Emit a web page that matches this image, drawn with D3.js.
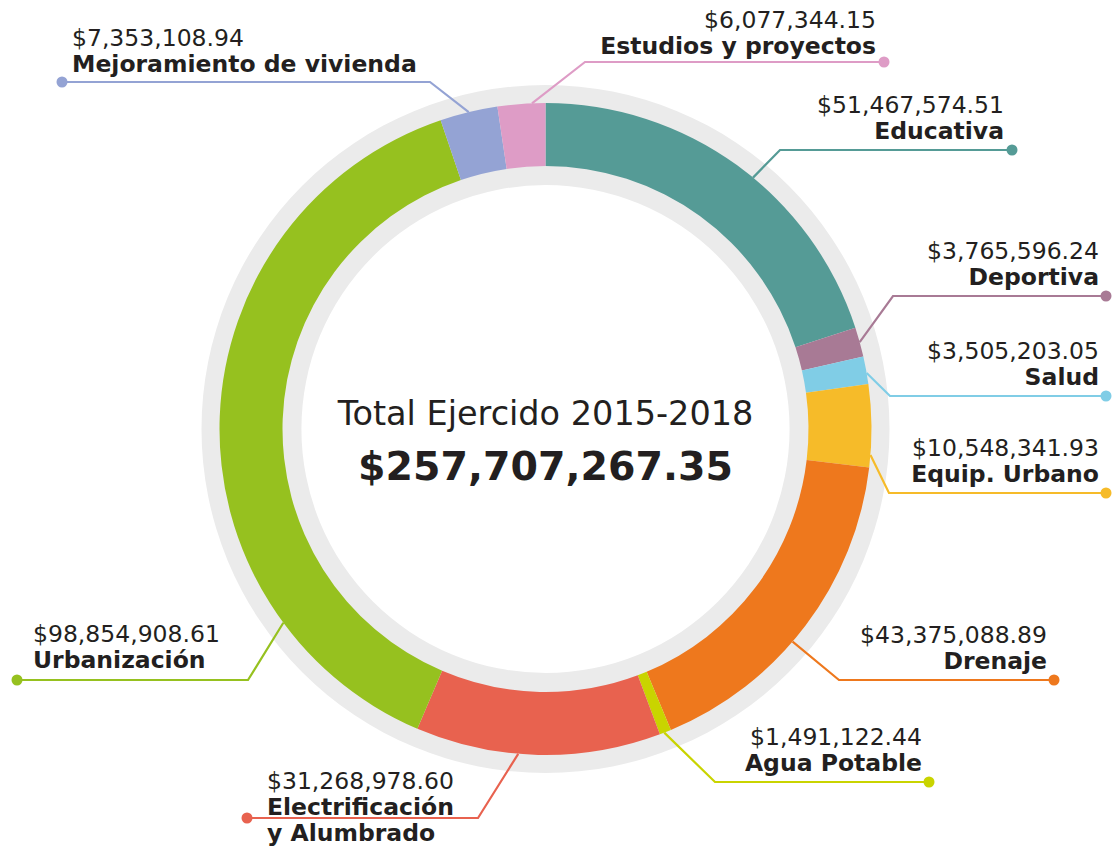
<!DOCTYPE html>
<html>
<head>
<meta charset="utf-8">
<script src="https://cdn.jsdelivr.net/npm/d3@7"></script>
<style>
  body { margin: 0; background: #fff; }
  text { font-family: "DejaVu Sans", sans-serif; fill: #231f20; }
  .value { font-size: 23.5px; }
  .name { font-size: 23.5px; font-weight: bold; }
</style>
</head>
<body>
<div id="chart"></div>
<script>
(function () {

  // data, clockwise from 12 o'clock
  var categories = [
    'Educativa', 'Deportiva', 'Salud', 'Equip. Urbano', 'Drenaje',
    'Agua Potable', 'Electrificación y Alumbrado', 'Urbanización',
    'Mejoramiento de vivienda', 'Estudios y proyectos'
  ]
  var values = [
    51467574.51, 3765596.24, 3505203.05, 10548341.93, 43375088.89,
    1491122.44, 31268978.60, 98854908.61, 7353108.94, 6077344.15
  ]
  // how each name is broken into lines
  var nameLines = [
    ['Educativa'], ['Deportiva'], ['Salud'], ['Equip. Urbano'], ['Drenaje'],
    ['Agua Potable'], ['Electrificación', 'y Alumbrado'], ['Urbanización'],
    ['Mejoramiento de vivienda'], ['Estudios y proyectos']
  ]
  var totalTitle = 'Total Ejercido 2015-2018'
  var totalValue = 257707267.35

  var colors = ['#559b96', '#a87a95', '#80cde6', '#f6bb29', '#ee781d',
                '#c9d400', '#e8624f', '#96c11f', '#94a3d4', '#de9cc6']

  // label placement: f = where on the segment the leader starts
  var labelLayout = [
    { f: 0.55, dot: [1012, 150], elbow: 780, text: [1004, 113], anchor: 'end' },
    { f: 0.5,  dot: [1106, 296], elbow: 893, text: [1099, 259], anchor: 'end' },
    { f: 0.6,  dot: [1106, 396], elbow: 890, text: [1099, 359], anchor: 'end' },
    { f: 0.85, dot: [1106, 493], elbow: 889, text: [1099, 456], anchor: 'end' },
    { f: 0.56, dot: [1054, 680], elbow: 839, text: [1047, 643], anchor: 'end' },
    { f: 0.6,  dot: [929, 782],  elbow: 715, text: [922, 745],  anchor: 'end' },
    { f: 0.58, dot: [247, 818],  elbow: 478, text: [267, 789],  anchor: 'start' },
    { f: 0.22, dot: [17, 680],   elbow: 248, text: [33, 642],   anchor: 'start' },
    { f: 0.5,  dot: [62, 82],    elbow: 430, text: [72, 46],    anchor: 'start' },
    { f: 0.72, dot: [884, 62],   elbow: 585, text: [876, 28],   anchor: 'end' }
  ]

  var width = 1116, height = 846
  var cx = 545.5, cy = 429
  var innerR = 263, outerR = 326

  var svg = d3.select('#chart')
    .append('svg')
    .attr('width', width)
    .attr('height', height)

  var g = svg.append('g')
    .attr('transform', 'translate(' + cx + ',' + cy + ')')

  var data = categories.map(function (c, i) {
    return { name: c, value: values[i], color: colors[i], lines: nameLines[i], layout: labelLayout[i] }
  })

  // grey backing ring
  g.append('path')
    .attr('d', d3.arc().innerRadius(244).outerRadius(344).startAngle(0).endAngle(2 * Math.PI)())
    .attr('fill', '#ebebeb')

  var pie = d3.pie()
    .sort(null)
    .value(function (d) { return d.value })

  var arc = d3.arc()
    .innerRadius(innerR)
    .outerRadius(outerR)

  var arcs = pie(data)

  g.selectAll('.slice')
    .data(arcs)
    .enter().append('path')
    .attr('class', 'slice')
    .attr('d', arc)
    .attr('fill', function (d) { return d.data.color })

  var fmt = d3.format('$,.2f')

  // leader lines
  arcs.forEach(function (d) {
    var L = d.data.layout
    var a = d.startAngle + L.f * (d.endAngle - d.startAngle)
    var ax = cx + outerR * Math.sin(a)
    var ay = cy - outerR * Math.cos(a)

    svg.append('polyline')
      .attr('points', [[ax, ay], [L.elbow, L.dot[1]], L.dot].map(function (p) { return p.join(',') }).join(' '))
      .attr('fill', 'none')
      .attr('stroke', d.data.color)
      .attr('stroke-width', 2.2)

    svg.append('circle')
      .attr('cx', L.dot[0])
      .attr('cy', L.dot[1])
      .attr('r', 5.5)
      .attr('fill', d.data.color)

    var t = svg.append('text')
      .attr('x', L.text[0])
      .attr('y', L.text[1])
      .attr('text-anchor', L.anchor)

    t.append('tspan')
      .attr('class', 'value')
      .attr('x', L.text[0])
      .text(fmt(d.data.value))

    d.data.lines.forEach(function (line) {
      t.append('tspan')
        .attr('class', 'name')
        .attr('x', L.text[0])
        .attr('dy', 26)
        .text(line)
    })
  })

  // centre total
  svg.append('text')
    .attr('x', cx)
    .attr('y', 425)
    .attr('text-anchor', 'middle')
    .style('font-size', '33.5px')
    .text(totalTitle)

  svg.append('text')
    .attr('x', cx)
    .attr('y', 480)
    .attr('text-anchor', 'middle')
    .style('font-size', '39.5px')
    .style('font-weight', 'bold')
    .text(fmt(totalValue))

})()
</script>
</body>
</html>
